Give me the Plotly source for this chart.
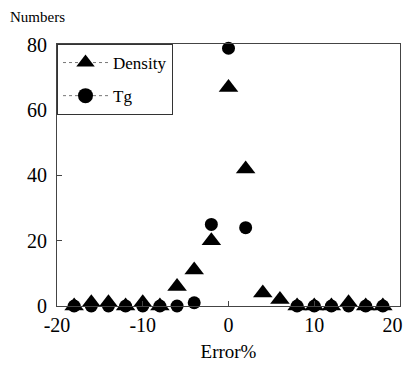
import plotly.graph_objects as go

error_pct = [-18, -16, -14, -12, -10, -8, -6, -4, -2, 0, 2, 4, 6, 8, 10, 12, 14, 16, 18]
density = [0, 1, 1, 0, 1, 0, 6, 11, 20, 67, 42, 4, 2, 0, 0, 0, 1, 0, 0]
tg_x = [-18, -16, -14, -12, -10, -8, -6, -4, -2, 0, 2, 8, 10, 12, 14, 16, 18]
tg = [0, 0, 0, 0, 0, 0, 0, 1, 25, 79, 24, 0, 0, 0, 0, 0, 0]

x_ticks = [-20, -10, 0, 10, 20]
x_labels = ["-20", "-10", "0", "10", "20\u00a0\u00a0\u00a0"]
y_ticks = [0, 20, 40, 60, 80]

serif = "Liberation Serif, Times New Roman, serif"

fig = go.Figure()
fig.add_trace(go.Scatter(x=tg_x, y=tg, mode="markers", showlegend=False,
                         marker=dict(symbol="circle", size=13, color="black"),
                         cliponaxis=False))
fig.add_trace(go.Scatter(x=error_pct, y=density, mode="markers", showlegend=False,
                         marker=dict(symbol="triangle-up", size=17, color="black"),
                         cliponaxis=False))
# legend entries
fig.add_trace(go.Scatter(x=[None], y=[None], mode="lines+markers", name="Density",
                         legendgroup="a",
                         marker=dict(symbol="triangle-up", size=19, color="black"),
                         line=dict(color="#777", width=1, dash="dot")))
fig.add_trace(go.Scatter(x=[None], y=[None], mode="lines+markers", name="Tg",
                         legendgroup="b",
                         marker=dict(symbol="circle", size=15, color="black"),
                         line=dict(color="#777", width=1, dash="dot")))

fig.update_layout(
    width=404, height=354,
    margin=dict(l=49, r=12, t=36, b=56, autoexpand=False),
    paper_bgcolor="white", plot_bgcolor="white",
    font=dict(family=serif, color="black"),
    legend=dict(x=0, y=1, xanchor="left", yanchor="top",
                bgcolor="white", bordercolor="#333", borderwidth=1,
                font=dict(family=serif, size=17, color="black"),
                traceorder="grouped", tracegroupgap=8,
                itemwidth=45),
    annotations=[dict(text="Numbers", xref="paper", yref="paper", x=-0.143, y=1.0,
                      yshift=37, xanchor="left", yanchor="top", showarrow=False,
                      font=dict(family=serif, size=15, color="black"))],
)
fig.update_xaxes(range=[-20, 20], tickvals=x_ticks, ticktext=x_labels,
                 ticks="inside", ticklen=5, automargin=False,
                 ticklabeloverflow="allow",
                 showline=True, linecolor="#444", linewidth=1, mirror=True,
                 showgrid=False, zeroline=False, ticklabelstandoff=1,
                 tickfont=dict(family=serif, size=20, color="black"),
                 title=dict(text="Error%", font=dict(family=serif, size=19, color="black"), standoff=10))
fig.update_yaxes(range=[0, 80.3], tickvals=y_ticks, ticks="inside", ticklen=5,
                 automargin=False, ticklabeloverflow="allow",
                 showline=True, linecolor="#444", linewidth=1, mirror=True,
                 showgrid=False, zeroline=False, ticklabelstandoff=5,
                 tickfont=dict(family=serif, size=20, color="black"))

fig.write_html("out.html")
